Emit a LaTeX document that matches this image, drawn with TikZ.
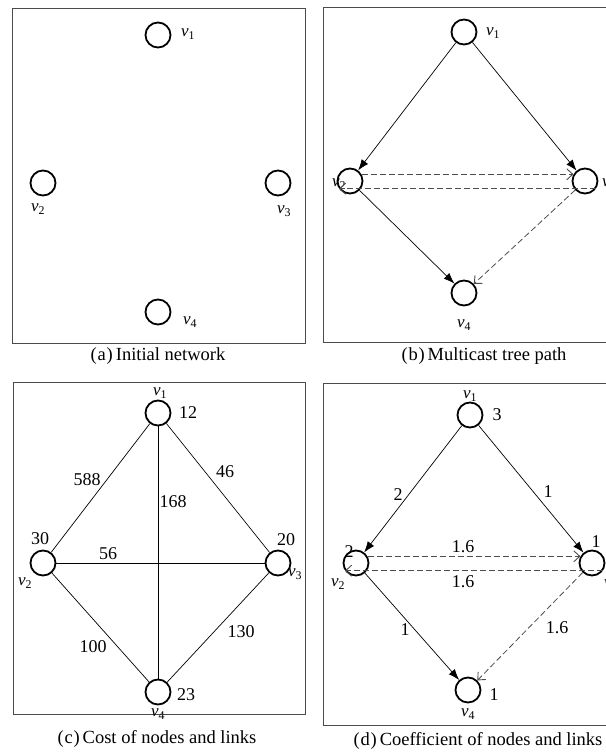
\documentclass[tikz,border=0pt]{standalone}
\usepackage{fontspec}
\setmainfont{Liberation Serif}
\usetikzlibrary{arrows.meta}
\newcommand\vlab[1]{\textit{v}\textsubscript{#1}}
\newcommand\sublab[1]{(\kern0.8pt#1\kern0.8pt)\kern3pt}
\begin{document}
\begin{tikzpicture}[x=1pt,y=-1pt,
 vtx/.style={circle,draw,line width=1.8pt,minimum size=25pt,inner sep=0pt},
 frame/.style={draw=black!70,line width=0.9pt},
 lbl/.style={font=\fontsize{17}{17}\selectfont,inner sep=1pt},
 num/.style={font=\fontsize{18}{18}\selectfont,inner sep=1pt},
 captxt/.style={font=\fontsize{18.5}{18.5}\selectfont,inner sep=1pt},
 link/.style={line width=0.7pt},
 tree/.style={line width=0.7pt,-{Latex[length=11pt,width=8pt]}},
 alt/.style={line width=0.8pt,dash pattern=on 6pt off 3pt,draw=black!70,-{Straight Barb[length=6pt,width=11pt,line width=0.9pt]}},
]
\useasboundingbox (0,0) rectangle (605,754);

% ---------- (a)
\draw[frame] (12,8) rectangle (305,343);
\node[vtx] (a1) at (158,35) {};
\node[vtx] (a2) at (43,183) {};
\node[vtx] (a3) at (278,183) {};
\node[vtx] (a4) at (158,312) {};
\node[lbl] (la1) at (188,34) {\vlab1};
\node[lbl] (la2) at (38,209) {\vlab2};
\node[lbl] (la3) at (284,211) {\vlab3};
\node[lbl] (la4) at (190,322) {\vlab4};
\node[captxt] (ca) at (158,356) {\sublab{a}Initial network};

% ---------- (b)
\draw[frame] (323,7) rectangle (640,342);
\node[vtx] (b1) at (464,32) {};
\node[vtx] (b2) at (350,181) {};
\node[vtx] (b3) at (585,181) {};
\node[vtx] (b4) at (464,293) {};
\node[lbl] (lb1) at (493,33) {\vlab1};
\node[lbl] (lb2) at (339,184) {\vlab2};
\node[lbl] (lb3) at (609,184) {\vlab3};
\node[lbl] (lb4) at (464,325) {\vlab4};
\draw[tree] (b1) -- (b2);
\draw[tree] (b1) -- (b3);
\draw[tree] (b2) -- (b4);
\draw[alt] (b2.30) -- (b3.150);
\draw[alt] (b3.-35) -- (b2.-145);
\draw[alt] (b3) -- (b4);
\node[captxt] (cb) at (484,356) {\sublab{b}Multicast tree path};

% ---------- (c)
\draw[frame] (13,382) rectangle (305,714);
\node[vtx] (c1) at (158,413) {};
\node[vtx] (c2) at (43,563) {};
\node[vtx] (c3) at (278,563) {};
\node[vtx] (c4) at (158,692) {};
\draw[link] (c1) -- (c2);
\draw[link] (c1) -- (c3);
\draw[link] (c1) -- (c4);
\draw[link] (c2) -- (c3);
\draw[link] (c2) -- (c4);
\draw[link] (c3) -- (c4);
\node[lbl] (lc1) at (160,393) {\vlab1};
\node[lbl] (lc2) at (25,583) {\vlab2};
\node[lbl] (lc3) at (295,574) {\vlab3};
\node[lbl] (lc4) at (158,714) {\vlab4};
\node[num] (wc1) at (188,413) {12};
\node[num] (wc2) at (40,539) {30};
\node[num] (wc3) at (286,540) {20};
\node[num] (wc4) at (186,695) {23};
\node[num] (e12) at (87,480) {588};
\node[num] (e13) at (225,472) {46};
\node[num] (e14) at (173,502) {168};
\node[num] (e23) at (108,554) {56};
\node[num] (e34) at (241,632) {130};
\node[num] (e24) at (93,647) {100};
\node[captxt] (cc) at (157,739) {\sublab{c}Cost of nodes and links};

% ---------- (d)
\draw[frame] (323,383) rectangle (640,725);
\node[vtx] (d1) at (470,415) {};
\node[vtx] (d2) at (356,563) {};
\node[vtx] (d3) at (592,563) {};
\node[vtx] (d4) at (468,690) {};
\node[lbl] (ld1) at (470,396) {\vlab1};
\node[lbl] (ld2) at (338,584) {\vlab2};
\node[lbl] (ld3) at (611,585) {\vlab3};
\node[lbl] (ld4) at (468,714) {\vlab4};
\node[num] (wd1) at (497,415) {3};
\node[num] (wd2) at (349,552) {2};
\node[num] (wd3) at (596,542) {1};
\node[num] (wd4) at (494,695) {1};
\draw[tree] (d1) -- (d2);
\draw[tree] (d1) -- (d3);
\draw[tree] (d2) -- (d4);
\draw[alt] (d2.30) -- (d3.150);
\draw[alt] (d3.-35) -- (d2.-145);
\draw[alt] (d3) -- (d4);
\node[num] (f12) at (398,495) {2};
\node[num] (f13) at (548,492) {1};
\node[num] (f23) at (463,547) {1.6};
\node[num] (f32) at (463,582) {1.6};
\node[num] (f24) at (405,630) {1};
\node[num] (f34) at (557,628) {1.6};
\node[captxt] (cd) at (478,741) {\sublab{d}Coefficient of nodes and links};
\end{tikzpicture}
\end{document}
